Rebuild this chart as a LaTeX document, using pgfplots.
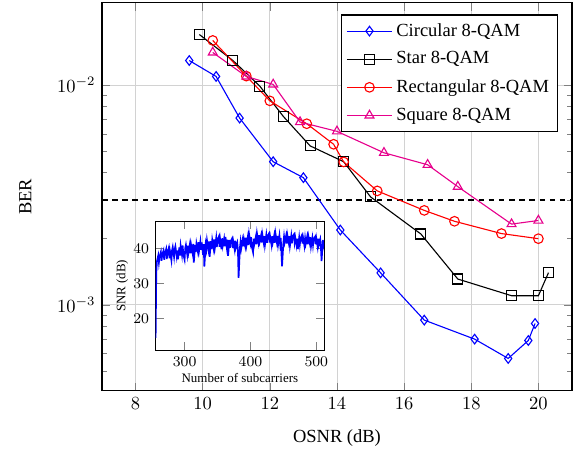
\documentclass[border=0pt]{standalone}
\usepackage{fontspec}
\setmainfont{Liberation Serif}
\usepackage{pgfplots}
\pgfplotsset{compat=1.18}
\usetikzlibrary{calc}
\definecolor{sqmag}{RGB}{230,0,140}

\begin{document}
\begin{tikzpicture}
\begin{axis}[
    name=main,
    scale only axis,
    width=254pt, height=209.7pt,
    xmin=7, xmax=21,
    ymode=log,
    ymin=4.06e-4, ymax=2.37e-2,
    xtick={8,10,...,20},
    grid=major,
    grid style={gray!35},
    axis line style={semithick},
    xlabel={OSNR (dB)},
    ylabel={BER},
    xlabel style={yshift=-4pt},
    ylabel style={yshift=7pt},
    legend pos=north east,
    legend cell align=left,
    legend style={row sep=2.9pt, inner sep=2.5pt, draw=black, semithick},
    legend image code/.code={
        \draw[mark repeat=2,mark phase=2] plot coordinates {(0cm,0cm) (0.43cm,0cm) (0.86cm,0cm)};
    },
]
\addplot[black, semithick, dash pattern=on 3pt off 2.5pt, forget plot] coordinates {(7,3e-3) (21,3e-3)};

\addplot[blue, semithick, mark=diamond, mark size=2.6pt] coordinates {
    (9.6,0.01294) (10.4,0.01095) (11.1,0.00708) (12.1,0.00448) (13.0,0.00379)
    (14.1,0.00219) (15.3,0.001398) (16.6,8.52e-4) (18.1,6.98e-4) (19.1,5.7e-4)
    (19.7,6.88e-4) (19.9,8.22e-4)
};
\addplot[black, semithick, mark=square, mark size=2.7pt] coordinates {
    (9.9,0.0170) (10.9,0.01294) (11.7,0.0099) (12.4,0.00721) (13.2,0.00529)
    (14.2,0.00448) (15.0,0.0031) (16.5,0.0021) (17.6,0.00131) (19.2,0.0011)
    (20.0,0.0011) (20.3,0.0014)
};
\addplot[red, semithick, mark=o, mark size=2.6pt] coordinates {
    (10.3,0.01597) (11.3,0.01099) (12.0,0.00848) (13.1,0.00667) (13.9,0.00538)
    (14.2,0.00447) (15.2,0.0033) (16.6,0.00269) (17.5,0.0024) (18.9,0.00211)
    (20.0,0.0020)
};
\addplot[sqmag, semithick, mark=triangle, mark size=2.8pt] coordinates {
    (10.3,0.01408) (11.3,0.01095) (12.1,0.01007) (12.9,0.00679) (14.0,0.00616)
    (15.4,0.00492) (16.7,0.00434) (17.6,0.00345) (19.2,0.00233) (20.0,0.00242)
};
\legend{Circular 8-QAM, Star 8-QAM, Rectangular 8-QAM, Square 8-QAM}
\end{axis}

% inset: SNR per subcarrier
\begin{axis}[
    at={($(main.south west)+(29pt,22pt)$)},
    anchor=south west,
    scale only axis,
    width=91.1pt, height=69.5pt,
    xmin=256, xmax=512,
    ymin=11, ymax=47.7,
    xtick={300,400,500},
    ytick={20,30,40},
    axis line style={semithick},
    tick label style={font=\footnotesize},
    label style={font=\scriptsize},
    xlabel={Number of subcarriers},
    ylabel={SNR (dB)},
    xlabel style={yshift=3pt},
    ylabel style={yshift=-4pt},
]
\addplot[blue, line width=0.9pt] coordinates {
(256,14.5) (257,33.0) (258,36.3) (260,38.0) (261,36.0) (262,37.6) (264,39.0) (265,36.5)
(266,38.2) (268,39.4) (269,36.8) (270,38.4) (272,39.8) (273,37.0) (274,38.9) (276,40.2)
(277,37.2) (278,39.0) (280,36.6) (281,39.5) (282,40.4) (284,37.6) (285,39.8) (286,40.6)
(288,37.8) (289,39.4) (290,36.9) (292,40.3) (293,38.0) (294,40.8) (296,38.2) (297,40.9)
(298,38.4) (300,36.8) (301,40.1) (302,41.0) (304,38.3) (305,40.8) (306,38.9) (308,41.2)
(309,38.6) (310,40.9) (312,38.8) (313,41.3) (314,36.0) (316,41.0) (317,39.0) (318,41.4)
(320,39.3) (321,41.8) (322,39.4) (324,42.0) (325,39.6) (326,41.7) (328,38.2) (329,41.2)
(330,34.8) (332,41.0) (333,39.8) (334,42.3) (336,39.9) (337,42.0) (338,37.6) (340,42.1)
(341,39.8) (342,42.4) (344,40.1) (345,42.6) (346,40.2) (348,43.0) (349,40.4) (350,42.5)
(352,43.4) (353,40.5) (354,42.6) (356,39.8) (357,42.9) (358,40.8) (360,42.8) (361,40.6)
(362,43.3) (364,40.4) (365,42.5) (366,37.9) (368,42.4) (369,40.2) (370,42.0) (372,42.8)
(373,40.1) (374,41.9) (376,39.7) (377,42.2) (378,40.3) (380,41.6) (381,39.5) (382,31.6)
(384,40.2) (385,41.9) (386,40.0) (388,42.3) (389,40.6) (390,42.7) (392,40.7) (393,43.1)
(394,41.0) (396,43.3) (397,41.0) (398,44.0) (400,41.6) (401,43.2) (402,40.6) (404,38.9)
(405,42.8) (406,41.3) (408,43.2) (409,41.2) (410,44.2) (412,41.8) (413,43.8) (414,41.9)
(416,43.6) (417,41.7) (418,44.1) (420,41.8) (421,43.5) (422,41.0) (424,43.8) (425,41.6)
(426,43.5) (428,44.2) (429,41.7) (430,43.3) (432,41.0) (433,43.5) (434,41.8) (436,43.7)
(437,41.6) (438,44.3) (440,41.9) (441,43.6) (442,41.1) (444,43.7) (445,41.5) (446,43.0)
(448,34.9) (450,41.6) (451,43.4) (452,41.7) (454,43.5) (455,41.4) (456,43.9) (458,41.8)
(459,43.5) (460,40.8) (462,43.6) (463,41.5) (464,43.4) (466,44.0) (467,41.8) (468,43.2)
(470,40.9) (471,42.8) (472,39.8) (474,43.1) (475,41.2) (476,42.9) (478,43.7) (479,41.4)
(480,43.0) (482,40.7) (483,42.9) (484,41.4) (486,43.3) (487,41.2) (488,43.5) (490,41.6)
(491,43.2) (492,40.6) (494,43.0) (495,41.0) (496,42.7) (498,43.3) (499,41.2) (500,42.9)
(502,40.5) (503,42.8) (504,41.1) (506,42.6) (507,40.4) (508,36.4) (510,42.4) (511,40.8)
(512,41.6)
};
\end{axis}

\pgfresetboundingbox
\path[use as bounding box] ($(main.south west)+(-55.1pt,-31.4pt)$) rectangle ($(main.north east)+(3.8pt,1.5pt)$);
\end{tikzpicture}
\end{document}
